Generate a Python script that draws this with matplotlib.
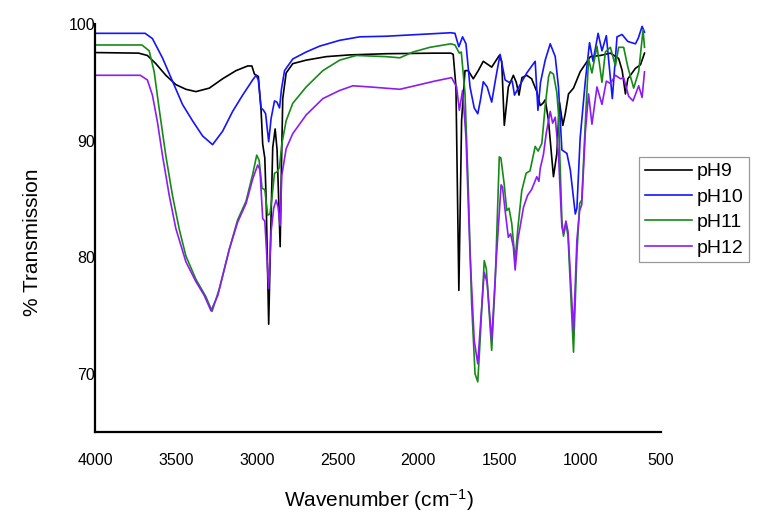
import matplotlib
matplotlib.use("Agg")
import matplotlib.pyplot as plt

plt.rcParams['font.family'] = ['Liberation Sans', 'DejaVu Sans']
plt.rcParams['mathtext.fontset'] = 'custom'
plt.rcParams['mathtext.rm'] = 'Liberation Sans'
plt.rcParams['mathtext.default'] = 'regular'

# FTIR spectra (wavenumber in cm-1, % transmission)
wn_ph9 = [4000, 3730, 3676, 3624, 3562, 3500, 3438, 3376, 3293, 3211, 3128, 3056, 3030, 3014,
          2990, 2973, 2963, 2950, 2942, 2926, 2911, 2901, 2886, 2874, 2864, 2855, 2847, 2839,
          2818, 2777, 2694, 2570, 2425, 2200, 1900, 1800, 1785, 1768, 1750, 1733, 1712, 1692,
          1661, 1630, 1599, 1547, 1500, 1485, 1469, 1444, 1425, 1413, 1395, 1378, 1360, 1330,
          1300, 1268, 1247, 1230, 1216, 1196, 1165, 1144, 1128, 1107, 1092, 1072, 1041, 1000,
          937, 875, 813, 762, 740, 720, 705, 658, 627, 602]
t_ph9 = [97.55, 97.5, 97.3, 96.6, 95.6, 94.8, 94.4, 94.2, 94.5, 95.3, 96.0, 96.4, 96.4, 95.7,
         95.5, 92.6, 89.7, 88.5, 85.1, 74.25, 83.6, 89.4, 91.0, 89.2, 84.9, 80.9, 87.9, 93.6,
         95.8, 96.6, 96.9, 97.2, 97.35, 97.45, 97.5, 97.5, 97.4, 94.6, 77.15, 91.75, 96.0, 96.0,
         95.3, 96.0, 96.8, 96.3, 97.3, 96.8, 91.3, 94.6, 95.2, 95.6, 95.0, 93.9, 95.4, 95.6,
         95.3, 94.2, 93.0, 93.2, 93.5, 91.75, 86.9, 88.9, 93.3, 91.3, 92.3, 94.0, 94.5, 95.9,
         97.2, 97.3, 97.5, 97.05, 96.0, 94.0, 95.3, 96.2, 96.5, 97.5]

wn_ph10 = [4000, 3690, 3645, 3583, 3521, 3459, 3397, 3335, 3273, 3211, 3149, 3087, 3025, 3004,
           2990, 2973, 2958, 2945, 2926, 2911, 2890, 2875, 2859, 2847, 2828, 2777, 2694, 2611,
           2487, 2363, 2200, 2000, 1800, 1774, 1762, 1750, 1727, 1706, 1681, 1655, 1633, 1615,
           1599, 1575, 1547, 1520, 1495, 1464, 1440, 1420, 1406, 1371, 1330, 1278, 1261, 1245,
           1216, 1185, 1154, 1134, 1113, 1082, 1061, 1030, 1020, 1000, 968, 942, 920, 889,
           865, 838, 801, 772, 741, 705, 658, 640, 617, 602]
t_ph10 = [99.2, 99.2, 98.75, 97.1, 95.1, 93.1, 91.7, 90.4, 89.65, 90.8, 92.5, 93.9, 95.2, 95.6,
          95.2, 92.8, 92.6, 92.3, 89.9, 91.9, 93.4, 93.3, 92.8, 94.4, 96.0, 97.0, 97.6, 98.1,
          98.6, 98.9, 98.95, 99.1, 99.25, 99.2, 98.6, 98.05, 98.9, 98.3, 94.6, 92.8, 92.3, 93.6,
          95.05, 94.6, 93.3, 95.5, 97.4, 95.2, 95.0, 95.1, 93.9, 94.8, 95.8, 96.8, 92.6, 95.0,
          96.9, 98.3, 97.2, 94.6, 89.2, 88.9, 87.5, 83.7, 84.2, 90.2, 95.1, 98.4, 96.8, 99.2,
          97.7, 99.0, 93.6, 98.9, 99.1, 98.5, 98.3, 98.8, 99.8, 99.3]

wn_ph11 = [4000, 3710, 3665, 3634, 3603, 3562, 3521, 3479, 3438, 3376, 3314, 3276, 3231, 3169,
           3118, 3066, 3025, 3000, 2985, 2967, 2950, 2932, 2918, 2905, 2890, 2875, 2859, 2845,
           2818, 2777, 2694, 2591, 2487, 2384, 2200, 2115, 2033, 1929, 1800, 1774, 1747, 1735,
           1712, 1692, 1671, 1650, 1633, 1620, 1593, 1580, 1547, 1525, 1500, 1490, 1470, 1454,
           1440, 1423, 1402, 1385, 1361, 1334, 1310, 1278, 1260, 1237, 1216, 1195, 1185, 1165,
           1144, 1134, 1113, 1103, 1088, 1075, 1041, 1020, 1003, 990, 968, 948, 927, 896,
           865, 844, 813, 782, 762, 731, 705, 669, 638, 611, 602]
t_ph11 = [98.2, 98.2, 97.7, 95.9, 92.7, 88.7, 85.3, 82.4, 80.1, 78.1, 76.6, 75.35, 77.3, 80.7,
          83.2, 84.8, 87.1, 88.75, 88.3, 85.9, 85.8, 83.6, 83.7, 85.2, 87.2, 87.3, 87.7, 89.7,
          91.7, 93.2, 94.6, 96.0, 96.9, 97.3, 97.2, 97.1, 97.6, 98.0, 98.3, 98.2, 97.5, 97.6,
          94.05, 86.0, 76.0, 70.0, 69.3, 72.5, 79.7, 79.0, 72.0, 78.0, 88.6, 88.5, 86.3, 84.0,
          84.2, 82.9, 79.7, 82.5, 85.7, 87.2, 87.4, 89.5, 89.1, 89.75, 93.0, 95.5, 95.9, 95.7,
          94.1, 92.3, 83.2, 81.8, 82.9, 81.8, 71.85, 80.3, 84.6, 84.9, 91.5, 97.0, 95.8, 98.1,
          95.0, 97.6, 98.0, 96.4, 98.0, 98.0, 96.3, 94.5, 95.9, 99.5, 98.0]

wn_ph12 = [4000, 3720, 3676, 3645, 3614, 3583, 3541, 3500, 3438, 3376, 3324, 3283, 3241, 3169,
           3118, 3066, 3025, 2994, 2980, 2963, 2950, 2926, 2911, 2895, 2880, 2868, 2855, 2845,
           2818, 2777, 2694, 2591, 2487, 2405, 2300, 2115, 1991, 1900, 1795, 1764, 1747, 1727,
           1706, 1681, 1655, 1633, 1615, 1593, 1575, 1547, 1520, 1489, 1480, 1464, 1444, 1430,
           1413, 1402, 1385, 1350, 1325, 1300, 1268, 1255, 1247, 1227, 1210, 1185, 1170, 1154,
           1134, 1113, 1103, 1088, 1075, 1041, 1020, 1003, 990, 968, 948, 927, 896, 865,
           838, 813, 782, 750, 731, 700, 673, 638, 617, 602]
t_ph12 = [95.6, 95.6, 95.2, 93.9, 91.6, 88.75, 85.3, 82.45, 79.6, 77.9, 76.7, 75.4, 76.7, 80.7,
          83.0, 84.6, 86.7, 87.9, 87.5, 83.3, 83.1, 77.3, 82.2, 84.2, 84.9, 84.3, 82.7, 87.0,
          89.3, 90.6, 92.2, 93.6, 94.3, 94.7, 94.6, 94.4, 94.8, 95.1, 95.4, 94.6, 92.6, 94.3,
          90.3, 80.3, 72.85, 70.85, 74.5, 78.7, 77.8, 72.85, 79.5, 86.2, 86.0, 84.0, 81.7, 82.0,
          80.9, 78.9, 81.5, 84.3, 85.3, 85.8, 86.9, 86.5, 87.6, 88.8, 90.6, 92.5, 91.5, 92.0,
          88.8, 82.6, 82.0, 83.1, 82.2, 73.6, 81.5, 84.0, 84.5, 90.7, 94.0, 91.4, 94.6, 93.1,
          95.1, 94.9, 95.6, 95.3, 95.4, 93.8, 93.4, 94.7, 93.7, 95.9]

labels = ['pH9', 'pH10', 'pH11', 'pH12']
colors = ['#000000', '#1414ff', '#168a16', '#8c1cf5']

fig = plt.figure(figsize=(7.72, 5.24), dpi=100)
ax = fig.add_axes([95 / 772, 1 - 432 / 524, 566 / 772, 408 / 524])

series = [(wn_ph9, t_ph9), (wn_ph10, t_ph10), (wn_ph11, t_ph11), (wn_ph12, t_ph12)]
for (wn, t), lab, c in zip(series, labels, colors):
    ax.plot(wn, t, color=c, lw=1.2, label=lab)

ax.set_xlim(4000, 500)
ax.set_ylim(65, 100)
ax.set_xticks([4000, 3500, 3000, 2500, 2000, 1500, 1000, 500])
ax.set_yticks([70, 80, 90, 100])
ax.spines['top'].set_visible(False)
ax.spines['right'].set_visible(False)
ax.spines['left'].set_linewidth(1.6)
ax.spines['bottom'].set_linewidth(1.6)
ax.tick_params(axis='x', length=0, pad=15, labelsize=11.5)
ax.tick_params(axis='y', length=0, pad=0, labelsize=11.5)

ax.set_xlabel('Wavenumber (cm$^{-1}$)', fontsize=15)
ax.set_ylabel('% Transmission', fontsize=15)
ax.xaxis.set_label_coords(0.502, -0.135)
ax.yaxis.set_label_coords(-0.094, 0.466)

leg = ax.legend(loc='upper left', bbox_to_anchor=(639 / 772, 1 - 157 / 524),
                bbox_transform=fig.transFigure, borderaxespad=0, fontsize=14,
                handlelength=2.4, handletextpad=0.25, labelspacing=0.4,
                borderpad=0.3, fancybox=False, framealpha=1)
leg.get_frame().set_edgecolor('#999999')
leg.get_frame().set_linewidth(0.9)

fig.savefig('out.png', dpi=100)
